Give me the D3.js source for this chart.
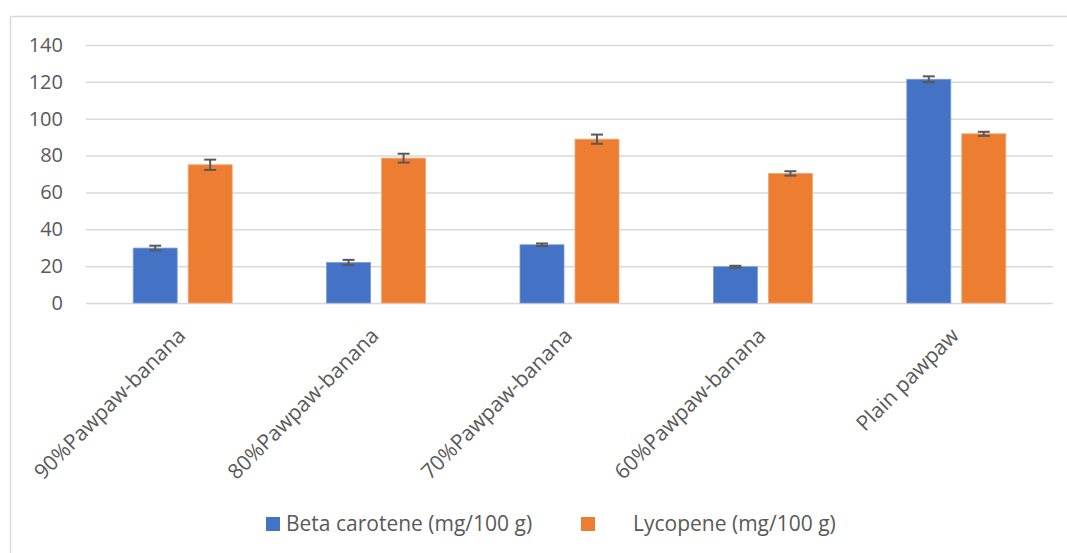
<!DOCTYPE html>
<html>
<head>
<meta charset="utf-8">
<script src="https://cdn.jsdelivr.net/npm/d3@7"></script>
<style>
  html, body { margin: 0; padding: 0; background: #fff; }
  svg { display: block; font-family: "Open Sans", "Liberation Sans", sans-serif; }
</style>
</head>
<body>
<svg id="chart" width="1067" height="553"></svg>
<script>
const categories = ["90%Pawpaw-banana", "80%Pawpaw-banana", "70%Pawpaw-banana", "60%Pawpaw-banana", "Plain pawpaw"];
const seriesNames = ["Beta carotene (mg/100 g)", "Lycopene (mg/100 g)"];
const betaCarotene = [29.8, 22.0, 31.6, 19.7, 121.4];
const betaCaroteneErr = [1.3, 1.4, 0.7, 0.5, 1.6];
const lycopene = [75.0, 78.6, 88.9, 70.3, 91.8];
const lycopeneErr = [2.8, 2.4, 2.5, 1.2, 1.1];
const yTicks = [0, 20, 40, 60, 80, 100, 120, 140];
const colors = ["#4472C4", "#ED7D31"];

const svg = d3.select("#chart");
const plot = { left: 86, right: 1053, top: 45, bottom: 303 };

// frame
svg.append("rect")
  .attr("x", 10.5).attr("y", 16.5)
  .attr("width", 1100).attr("height", 700)
  .attr("fill", "none").attr("stroke", "#d9d9d9").attr("stroke-width", 1.5);

const y = d3.scaleLinear().domain([0, 140]).range([plot.bottom, plot.top]);
const x0 = d3.scaleBand().domain(categories).range([plot.left, plot.right]).padding(0);
const bw = x0.bandwidth();
const x1 = d3.scaleBand().domain(seriesNames).range([bw / 2 - 49.5, bw / 2 + 49.5]).paddingInner(0.2).paddingOuter(0);

// gridlines + y labels via axis
const yAxis = d3.axisLeft(y).tickValues(yTicks).tickSize(-(plot.right - plot.left)).tickPadding(23);
const gy = svg.append("g").attr("transform", `translate(${plot.left},0)`).call(yAxis);
gy.select(".domain").remove();
gy.selectAll(".tick line").attr("stroke", "#d9d9d9").attr("stroke-width", 1.5);
gy.selectAll(".tick text").attr("fill", "#595959").attr("font-size", 20)
  .attr("font-family", "Open Sans, sans-serif");

const data = categories.map((c, i) => ({
  cat: c,
  vals: [
    { s: seriesNames[0], v: betaCarotene[i], e: betaCaroteneErr[i], k: 0 },
    { s: seriesNames[1], v: lycopene[i], e: lycopeneErr[i], k: 1 }
  ]
}));

const groups = svg.append("g").selectAll("g").data(data).join("g")
  .attr("transform", d => `translate(${x0(d.cat)},0)`);

groups.selectAll("rect").data(d => d.vals).join("rect")
  .attr("x", d => x1(d.s))
  .attr("width", x1.bandwidth())
  .attr("y", d => y(d.v))
  .attr("height", d => y(0) - y(d.v))
  .attr("fill", d => colors[d.k])
  .attr("stroke", d => d.k === 0 ? "#7b9bd6" : "#f3a574")
  .attr("stroke-width", 0.8);

// error bars
const eb = groups.selectAll("g.err").data(d => d.vals).join("g").attr("class", "err")
  .attr("stroke", "#595959").attr("stroke-width", 2);
const capW = 6;
eb.append("line")
  .attr("x1", d => x1(d.s) + x1.bandwidth() / 2).attr("x2", d => x1(d.s) + x1.bandwidth() / 2)
  .attr("y1", d => y(d.v + d.e)).attr("y2", d => y(d.v - d.e));
eb.append("line")
  .attr("x1", d => x1(d.s) + x1.bandwidth() / 2 - capW).attr("x2", d => x1(d.s) + x1.bandwidth() / 2 + capW)
  .attr("y1", d => y(d.v + d.e)).attr("y2", d => y(d.v + d.e));
eb.append("line")
  .attr("x1", d => x1(d.s) + x1.bandwidth() / 2 - capW).attr("x2", d => x1(d.s) + x1.bandwidth() / 2 + capW)
  .attr("y1", d => y(d.v - d.e)).attr("y2", d => y(d.v - d.e));

// x labels
svg.append("g").selectAll("text").data(categories).join("text")
  .attr("transform", d => `translate(${x0(d) + bw / 2 + 4},337) rotate(-45)`)
  .attr("text-anchor", "end")
  .attr("fill", "#595959").attr("font-size", 21)
  .text(d => d);

// legend
const legendItems = [
  { name: seriesNames[0], sq: 266, tx: 286 },
  { name: seriesNames[1], sq: 581, tx: 633 }
];
const lg = svg.append("g");
lg.selectAll("rect").data(legendItems).join("rect")
  .attr("x", d => d.sq).attr("y", 517).attr("width", 14).attr("height", 14)
  .attr("fill", (d, i) => colors[i]);
lg.selectAll("text").data(legendItems).join("text")
  .attr("x", d => d.tx).attr("y", 531)
  .attr("fill", "#595959").attr("font-size", 21)
  .text(d => d.name);
</script>
</body>
</html>
